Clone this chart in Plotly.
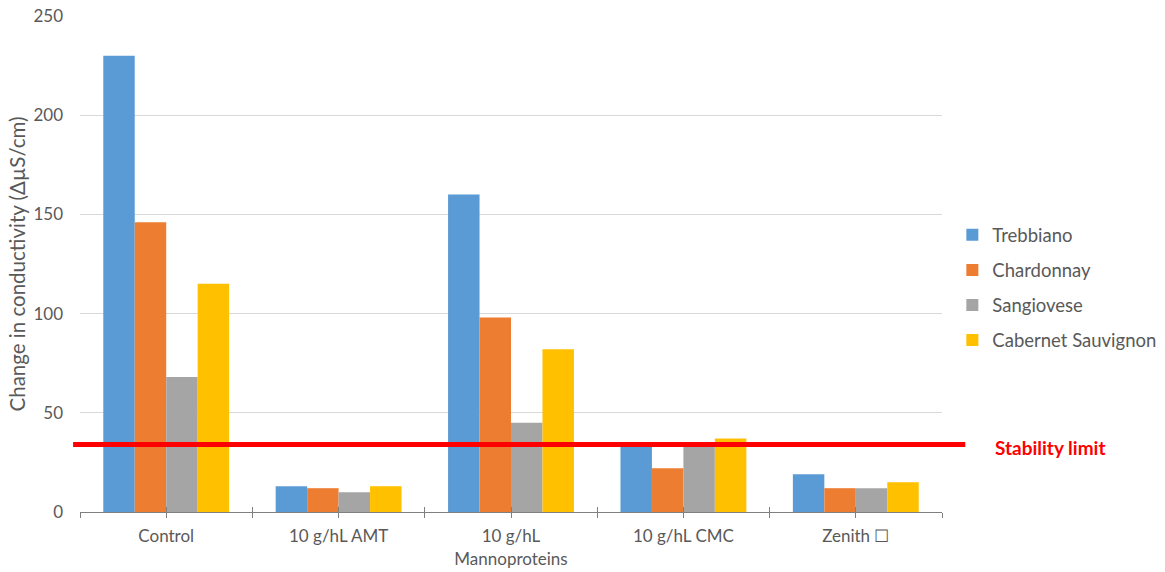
import plotly.graph_objects as go

# Treatments (x categories) and measured conductivity change per grape variety
treatments = ["Control", "10 g/hL AMT", "10 g/hL<br>Mannoproteins", "10 g/hL CMC", "Zenith \u2610"]
varieties = ["Trebbiano", "Chardonnay", "Sangiovese", "Cabernet Sauvignon"]
trebbiano = [230, 13, 160, 34, 19]
chardonnay = [146, 12, 98, 22, 12]
sangiovese = [68, 10, 45, 34, 12]
cabernet = [115, 13, 82, 37, 15]
stability_limit = 34

series = [trebbiano, chardonnay, sangiovese, cabernet]
colors = ["#5B9BD5", "#ED7D31", "#A5A5A5", "#FFC000"]

FONT = "Lato"
GREY = "#595959"

fig = go.Figure()
for i, (name, vals, col) in enumerate(zip(varieties, series, colors)):
    fig.add_trace(go.Bar(
        x=treatments, y=vals, name=name,
        marker=dict(color=col, line=dict(width=0)),
        legendgroup=name,
    ))

# Stability limit reference line, running slightly past the plot area
fig.add_shape(type="line", xref="paper", yref="y",
              x0=-0.008, x1=1.027, y0=stability_limit, y1=stability_limit,
              line=dict(color="#FF0000", width=5))
fig.add_annotation(xref="paper", yref="y", x=1.059, y=stability_limit,
                   xanchor="left", yanchor="middle", showarrow=False,
                   text="<b>Stability limit</b>",
                   font=dict(family=FONT, size=19, color="#FF0000"), yshift=-3)

n = len(treatments)
boundaries = [k - 0.5 for k in range(n + 1)]
centers = list(range(n))
tick_axis = dict(type="linear", range=[-0.5, n - 0.5], overlaying="x", anchor="y",
                 showticklabels=False, showgrid=False, zeroline=False, automargin=False,
                 ticklen=5, tickcolor="#7F7F7F", tickwidth=1, tickmode="array")

fig.update_layout(
    width=1165, height=572,
    margin=dict(l=80, r=223, t=16, b=60, autoexpand=False),
    paper_bgcolor="white", plot_bgcolor="white",
    barmode="group", bargap=0.27, bargroupgap=0,
    font=dict(family=FONT, color=GREY, size=17),
    showlegend=True,
    legend=dict(x=1.012, y=0.452, xanchor="left", yanchor="middle",
                font=dict(family=FONT, size=18.5, color=GREY),
                tracegroupgap=8, itemwidth=30),
    xaxis=dict(type="category", range=[-0.5, n - 0.5], showline=True, automargin=False,
               linecolor="#7F7F7F", linewidth=1, ticks="", showgrid=False,
               ticklabelstandoff=9,
               tickfont=dict(family=FONT, size=17, color=GREY)),
    xaxis2=dict(tick_axis, ticks="outside", tickvals=boundaries + centers),
    xaxis3=dict(tick_axis, ticks="inside", tickvals=boundaries + centers),
    yaxis=dict(range=[0, 250], tickvals=[0, 50, 100, 150, 200, 250], automargin=False,
               showgrid=True, gridcolor="#D9D9D9", gridwidth=1,
               zeroline=False, showline=False, ticks="", ticklabelstandoff=16,
               tickfont=dict(family=FONT, size=17, color=GREY),
               title=dict(text="Change in conductivity (\u0394\u00b5S/cm)",
                          font=dict(family=FONT, size=20.5, color=GREY), standoff=2)),
)

# Invisible traces to attach the tick-only overlay axes
fig.add_trace(go.Scatter(x=[0], y=[0], xaxis="x2", yaxis="y", mode="markers",
                         marker=dict(opacity=0), showlegend=False, hoverinfo="skip"))
fig.add_trace(go.Scatter(x=[0], y=[0], xaxis="x3", yaxis="y", mode="markers",
                         marker=dict(opacity=0), showlegend=False, hoverinfo="skip"))

fig.write_html("out.html")
